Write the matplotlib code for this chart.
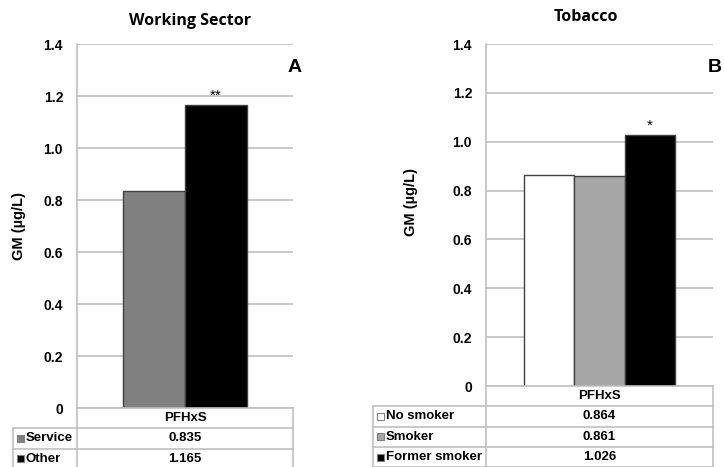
import numpy as np
from matplotlib import pyplot as plt
from matplotlib.patches import Rectangle
from matplotlib.lines import Line2D

# PFHxS geometric means (ug/L)
compound = "PFHxS"
sector_groups = ["Service", "Other"]
sector_gm = [0.835, 1.165]
sector_colors = ["#808080", "#000000"]
sector_stars = ["", "**"]

tobacco_groups = ["No smoker", "Smoker", "Former smoker"]
tobacco_gm = [0.864, 0.861, 1.026]
tobacco_colors = ["#ffffff", "#a6a6a6", "#000000"]
tobacco_stars = ["", "", "*"]

yticks = [0, 0.2, 0.4, 0.6, 0.8, 1.0, 1.2, 1.4]
yticklabels = ["0", "0.2", "0.4", "0.6", "0.8", "1.0", "1.2", "1.4"]

W, H = 724, 467
grid_col = "#c0c0c0"
edge_col = "#404040"
bold_font = "Liberation Sans"
title_font = "Open Sans"

fig = plt.figure(figsize=(W / 100, H / 100), dpi=100)


def fx(x):
    return x / W


def fy(y):
    return 1 - y / H


def panel(left, right, top, bottom, leg_left, groups, gm, colors, stars, barw,
          title, title_xy, letter, letter_xy, ylab_xy):
    ax = fig.add_axes([fx(left), fy(bottom), fx(right) - fx(left), fy(top) - fy(bottom)])
    n = len(groups)
    offs = (np.arange(n) - (n - 1) / 2) * barw
    ax.bar(offs, gm, width=barw, color=colors, edgecolor=edge_col, linewidth=1.0, zorder=3)
    for x, v, s in zip(offs, gm, stars):
        if s:
            ax.annotate(s, (x, v), xytext=(0, 2), textcoords="offset points",
                        ha="center", va="bottom", fontsize=11, family=bold_font)
    ax.set_xlim(-0.5, 0.5)
    ax.set_ylim(0, 1.4)
    ax.set_yticks(yticks)
    ax.set_yticklabels(yticklabels, fontsize=10, fontweight="bold", family=bold_font)
    ax.set_xticks([])
    ax.tick_params(axis="y", length=0, pad=10)
    ax.grid(axis="y", color=grid_col, linewidth=1.2, zorder=0)
    for sp in ["top", "right", "bottom"]:
        ax.spines[sp].set_visible(False)
    ax.spines["left"].set_color(grid_col)
    ax.spines["left"].set_linewidth(1.2)

    # titles and panel letter
    fig.text(fx(title_xy[0]), fy(title_xy[1]), title, ha="center", va="center",
             fontsize=11.5, fontweight="bold", family=title_font)
    fig.text(fx(letter_xy[0]), fy(letter_xy[1]), letter, ha="center", va="center",
             fontsize=14, fontweight="bold", family=bold_font)
    fig.text(fx(ylab_xy[0]), fy(ylab_xy[1]), "GM (µg/L)", ha="center", va="center",
             rotation=90, fontsize=10.5, fontweight="bold", family=bold_font)

    # data table under the axis
    rh = 20.3
    def hline(y, x0, x1):
        fig.add_artist(Line2D([fx(x0), fx(x1)], [fy(y), fy(y)], color=grid_col,
                              linewidth=1.2, transform=fig.transFigure))
    def vline(x, y0, y1):
        fig.add_artist(Line2D([fx(x), fx(x)], [fy(y0), fy(y1)], color=grid_col,
                              linewidth=1.2, transform=fig.transFigure))
    y_end = bottom + (n + 1) * rh
    hline(bottom, left, right)
    vline(left, bottom, y_end)
    vline(right, bottom, y_end)
    vline(leg_left, bottom + rh, y_end)
    for k in range(1, n + 2):
        hline(bottom + k * rh, leg_left, right)
    cx = (left + right) / 2
    fig.text(fx(cx), fy(bottom + rh / 2), compound, ha="center", va="center",
             fontsize=9.5, fontweight="bold", family=bold_font)
    for i, (g, v, c) in enumerate(zip(groups, gm, colors)):
        yc = bottom + (i + 1.5) * rh
        fig.text(fx(cx), fy(yc), f"{v:.3f}", ha="center", va="center",
                 fontsize=9.5, fontweight="bold", family=bold_font)
        fig.add_artist(Rectangle((fx(leg_left + 4), fy(yc + 3.5)), 7 / W, 7 / H,
                                 facecolor=c, edgecolor="#808080", linewidth=0.8,
                                 transform=fig.transFigure))
        fig.text(fx(leg_left + 13), fy(yc), g, ha="left", va="center",
                 fontsize=9.5, fontweight="bold", family=bold_font)
    return ax


panel(77, 293, 44, 408, 13, sector_groups, sector_gm, sector_colors, sector_stars, 0.285,
      "Working Sector", (190, 21), "A", (295, 67), (19, 226))
panel(486, 713, 44, 386, 373, tobacco_groups, tobacco_gm, tobacco_colors, tobacco_stars, 0.222,
      "Tobacco", (586, 17), "B", (715, 67), (411, 202))

fig.savefig("out.png", dpi=100)
